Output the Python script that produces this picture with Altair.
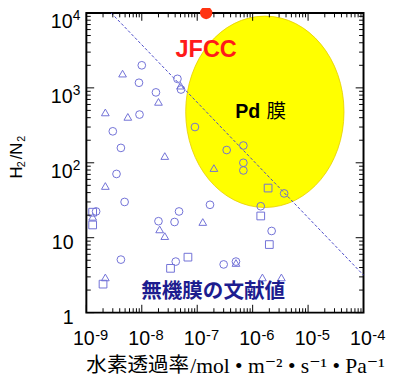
import altair as alt
import pandas as pd

# ---- data ----
circle_x = [1.0e-8, 8.9e-9, 4.4e-8, 5.1e-8, 1.8e-8, 9.1e-9, 3.0e-9, 4.2e-9, 3.5e-9, 9.1e-8,
            3.4e-7, 6.8e-7, 6.8e-7, 6.8e-7, 3.7e-6, 1.7e-7, 4.7e-8, 1.4e-6, 2.2e-6, 3.0e-7,
            5.0e-7, 4.9e-9, 1.5e-9, 2.0e-8, 3.9e-8, 4.2e-9, 4.1e-8]
circle_y = [2000, 1170, 1320, 950, 870, 440, 263, 158, 71, 300,
            148, 170, 100, 79, 39, 27.5, 22.4, 26.3, 12.3, 4.4,
            4.8, 30, 22.4, 16.6, 16.2, 5.1, 4.8]
tri_x = [4.5e-9, 5.0e-8, 2.0e-8, 2.2e-9, 5.6e-9, 2.6e-8, 2.2e-9, 2.0e-7, 1.26e-7, 2.1e-8,
         2.6e-8, 5.0e-7, 1.5e-6, 3.3e-6, 2.2e-9, 1.3e-9]
tri_y = [1550, 1070, 650, 470, 410, 123, 49, 85, 16.2, 12.9,
         10.5, 4.6, 2.95, 2.95, 2.95, 19]
sq_x = [1.9e-6, 1.4e-6, 2.0e-6, 6.8e-8, 3.3e-8, 2.0e-9, 1.3e-9, 1.3e-9]
sq_y = [46, 19.5, 8.1, 5.5, 3.9, 2.4, 21.9, 14.8]

line_x = [2.8e-9, 1.0e-4]
line_y = [1.0e4, 3.16]

jfcc_x = [1.45e-7]
jfcc_y = [1.0e4]

pd_x = [1.66e-6]
pd_y = [479]

x_ticks = [1e-9, 1e-8, 1e-7, 1e-6, 1e-5, 1e-4]
x_exps = ["-9", "-8", "-7", "-6", "-5", "-4"]
y_ticks = [1, 10, 100, 1000, 10000]
y_base = ["1", "10", "10", "10", "10"]
y_exps = ["", "", "2", "3", "4"]

x_minor = [k * 10.0 ** d for d in range(-9, -4) for k in range(2, 10)]
y_minor = [k * 10.0 ** d for d in range(0, 4) for k in range(2, 10)]

# ---- layout ----
W, H = 283, 306
xs = alt.Scale(type="log", domain=[1e-9, 1e-4], nice=False)
ys = alt.Scale(type="log", domain=[1, 1e4], nice=False)
MARK = "#7070d6"
SANS = "Liberation Sans, DejaVu Sans"
CJK = "Noto Sans CJK JP"

one = pd.DataFrame({"a": [0]})

pts = pd.DataFrame({
    "x": circle_x + tri_x + sq_x,
    "y": circle_y + tri_y + sq_y,
    "shape": ["circle"] * len(circle_x) + ["triangle-up"] * len(tri_x) + ["square"] * len(sq_x),
})

axis_x = alt.Axis(values=x_ticks, grid=True, labels=False, ticks=False, domain=False, title=None,
                  gridDash=[2, 2], gridColor="#bdbdbd", gridWidth=1, zindex=1)
axis_y = alt.Axis(values=y_ticks, grid=True, labels=False, ticks=False, domain=False, title=None,
                  gridDash=[2, 2], gridColor="#bdbdbd", gridWidth=1, zindex=1)

ell_path = "M -0.827 0 A 0.827 1 0 1 0 0.827 0 A 0.827 1 0 1 0 -0.827 0 Z"
ellipse = alt.Chart(pd.DataFrame({"x": pd_x, "y": pd_y})).mark_point(
    shape=ell_path, filled=True, fill="#ffff00", stroke="#e6cc00", strokeWidth=0.8,
    size=38200, opacity=1
).encode(x=alt.X("x:Q", scale=xs, axis=axis_x), y=alt.Y("y:Q", scale=ys, axis=axis_y))

line = alt.Chart(pd.DataFrame({"x": line_x, "y": line_y})).mark_line(
    color="#4848c8", strokeDash=[3, 2], strokeWidth=1
).encode(x=alt.X("x:Q", scale=xs, axis=None), y=alt.Y("y:Q", scale=ys, axis=None))

points = alt.Chart(pts).mark_point(
    filled=False, color=MARK, strokeWidth=1, size=62, opacity=1
).encode(
    x=alt.X("x:Q", scale=xs, axis=None),
    y=alt.Y("y:Q", scale=ys, axis=None),
    shape=alt.Shape("shape:N", scale=None),
)

dot = alt.Chart(pd.DataFrame({"x": jfcc_x, "y": jfcc_y})).mark_point(
    filled=True, color="#ff3311", size=160, opacity=1
).encode(x=alt.X("x:Q", scale=xs, axis=None), y=alt.Y("y:Q", scale=ys, axis=None))

# ---- ticks (inward, all four sides) ----
xmaj = pd.DataFrame({"v": x_ticks})
xmin = pd.DataFrame({"v": x_minor})
ymaj = pd.DataFrame({"v": y_ticks})
ymin = pd.DataFrame({"v": y_minor})

def xtick(df, ln):
    b = alt.Chart(df).mark_rule(color="black", strokeWidth=1)
    return [
        b.encode(x=alt.X("v:Q", scale=xs, axis=None), y=alt.value(H), y2=alt.value(H - ln)),
        b.encode(x=alt.X("v:Q", scale=xs, axis=None), y=alt.value(0), y2=alt.value(ln)),
    ]

def ytick(df, ln):
    b = alt.Chart(df).mark_rule(color="black", strokeWidth=1)
    return [
        b.encode(y=alt.Y("v:Q", scale=ys, axis=None), x=alt.value(0), x2=alt.value(ln)),
        b.encode(y=alt.Y("v:Q", scale=ys, axis=None), x=alt.value(W), x2=alt.value(W - ln)),
    ]

ticks = xtick(xmaj, 8) + xtick(xmin, 4.5) + ytick(ymaj, 8) + ytick(ymin, 4.5)

# ---- tick labels ----
xl = pd.DataFrame({"v": x_ticks, "e": x_exps})
xlab_base = alt.Chart(xl).mark_text(
    text="10", align="right", baseline="middle", fontSize=20, font=SANS, dx=8.5, color="black"
).encode(x=alt.X("v:Q", scale=xs, axis=None), y=alt.value(H + 27.5))
xlab_exp = alt.Chart(xl).mark_text(
    align="left", baseline="middle", fontSize=15, font=SANS, dx=9, color="black"
).encode(x=alt.X("v:Q", scale=xs, axis=None), y=alt.value(H + 22.5), text="e:N")

yl = pd.DataFrame({"v": y_ticks, "b": y_base, "e": y_exps})
ylab_plain = alt.Chart(yl).transform_filter("datum.e == ''").mark_text(
    align="right", baseline="middle", fontSize=20, font=SANS, dx=-13, dy=5.5, color="black"
).encode(y=alt.Y("v:Q", scale=ys, axis=None), x=alt.value(0), text="b:N")
ylab_base = alt.Chart(yl).transform_filter("datum.e != ''").mark_text(
    align="right", baseline="middle", fontSize=20, font=SANS, dx=-14, dy=9.5, color="black"
).encode(y=alt.Y("v:Q", scale=ys, axis=None), x=alt.value(0), text="b:N")
ylab_exp = alt.Chart(yl).transform_filter("datum.e != ''").mark_text(
    align="left", baseline="middle", fontSize=14, font=SANS, dx=-14, dy=3, color="black"
).encode(y=alt.Y("v:Q", scale=ys, axis=None), x=alt.value(0), text="e:N")

# ---- titles and annotations ----
def rot(txt, size, x, y):
    return alt.Chart(one).mark_text(
        text=txt, angle=270, fontSize=size, font=SANS, baseline="middle", align="center",
        color="black"
    ).encode(x=alt.value(x), y=alt.value(y))

ytitle = [
    rot("H", 17, -70.5, 163),
    rot("2", 11, -65.5, 154.5),
    rot("/N", 17, -70.5, 141),
    rot("2", 11, -65.5, 128.5),
]

xtitle_cjk = alt.Chart(one).mark_text(
    text="水素透過率", align="left", baseline="middle", fontSize=21, font=CJK, color="black"
).encode(x=alt.value(0), y=alt.value(361))
xtitle_unit = alt.Chart(one).mark_text(
    text="/mol • m⁻² • s⁻¹ • Pa⁻¹", align="left", baseline="middle",
    fontSize=22, font="Liberation Serif, DejaVu Serif", color="black"
).encode(x=alt.value(106), y=alt.value(361))

legend_txt = alt.Chart(one).mark_text(
    text="無機膜の文献値", align="left", baseline="middle", fontSize=21, font=CJK,
    fontWeight="bold", color="#1d1d8f"
).encode(x=alt.value(56), y=alt.value(285))

jfcc_txt = alt.Chart(one).mark_text(
    text="JFCC", align="left", baseline="middle", fontSize=24, font=SANS,
    fontWeight="bold", color="#ff1a1a"
).encode(x=alt.value(91), y=alt.value(38))

pd_txt = alt.Chart(one).mark_text(
    text="Pd", align="left", baseline="middle", fontSize=20, font=SANS,
    fontWeight="bold", color="black"
).encode(x=alt.value(152), y=alt.value(101.5))
maku_txt = alt.Chart(one).mark_text(
    text="膜", align="left", baseline="middle", fontSize=20, font=CJK, color="black"
).encode(x=alt.value(184), y=alt.value(101.5))

layers = [ellipse, line, points, dot] + ticks + [
    xlab_base, xlab_exp, ylab_plain, ylab_base, ylab_exp,
] + ytitle + [xtitle_cjk, xtitle_unit, legend_txt, jfcc_txt, pd_txt, maku_txt]

chart = alt.layer(*layers).properties(
    width=W, height=H,
    padding={"left": 80, "top": 1, "right": 25, "bottom": 77},
    autosize=alt.AutoSizeParams(type="none"),
    background="white",
).configure_view(stroke="black", strokeWidth=2)

chart.save("out.html", embed_options={"renderer": "svg", "actions": False})
